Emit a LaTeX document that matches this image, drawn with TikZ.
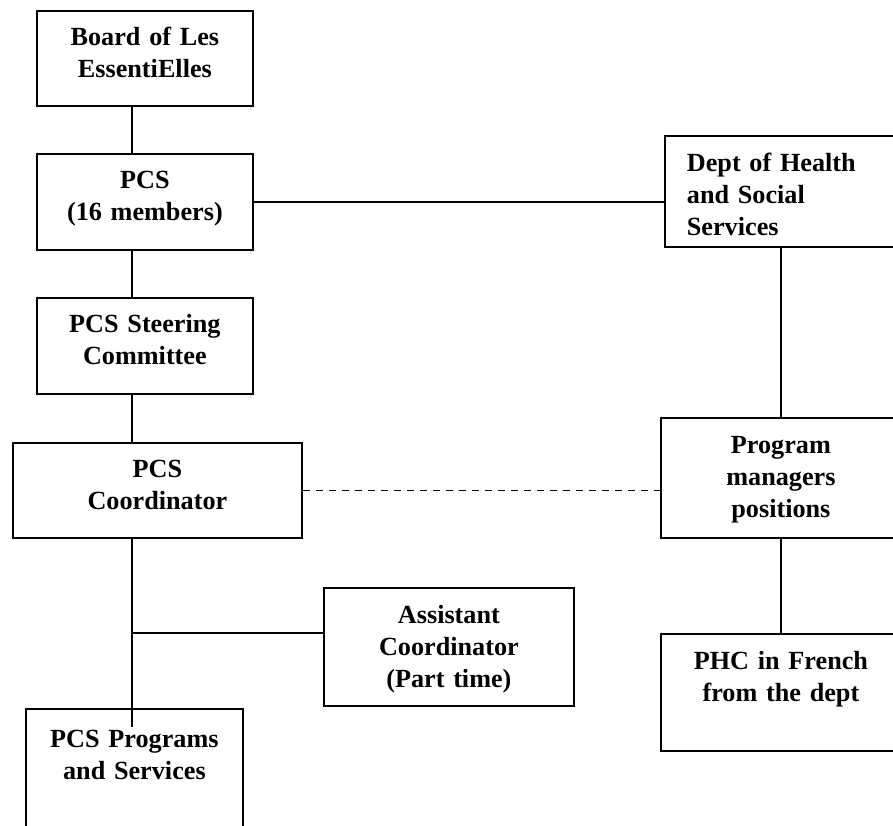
\documentclass[tikz,border=0pt]{standalone}
\usepackage{fontspec}
\setmainfont{Liberation Serif}
\usetikzlibrary{positioning}

\begin{document}
\begin{tikzpicture}[x=1pt, y=-1pt, line width=1.8pt,
    font=\fontsize{26.2}{32}\selectfont\bfseries,
    unit/.style={draw, rectangle, anchor=north west, inner xsep=0pt, inner ysep=0pt,
                 align=center, text height=35pt},
    link/.style={line width=1.6pt},
    loose/.style={link, dash pattern=on 7pt off 6pt}]
    \clip (0,0) rectangle (893,825);
    % left column
    \node[unit, text width=216pt, text depth=60pt] (board) at (36,10) {Board of Les\\EssentiElles};
    \node[unit, text width=216pt, text depth=61pt] (pcs) at (36,153) {PCS\\(16 members)};
    \node[unit, text width=216pt, text depth=61pt] (steer) at (36,297) {PCS Steering\\Committee};
    \node[unit, text width=289pt, text depth=60pt] (coord) at (12,442) {PCS\\Coordinator};
    \node[unit, text width=250pt, text height=36pt, text depth=82pt] (assist) at (323,587) {Assistant\\Coordinator\\(Part time)};
    \node[unit, text width=217pt, text height=39pt, text depth=120pt] (progs) at (25,708) {PCS Programs\\and Services};
    % right column
    \node[unit, align=left, inner xsep=22pt, text width=192pt, text height=36pt, text depth=75pt] (dept) at (664,135) {Dept of Health\\and Social\\Services};
    \node[unit, text width=240pt, text height=36pt, text depth=84pt] (pmgr) at (660,417) {Program\\managers\\positions};
    \node[unit, text width=240pt, text height=36pt, text depth=81pt] (phc) at (660,633) {PHC in French\\from the dept};

    \coordinate (spine) at (132,0);
    \coordinate (branch) at (132,633);
    \coordinate (tail) at (132,727);

    \draw[link] (board.south -| spine) -- (pcs.north -| spine);
    \draw[link] (pcs.south -| spine) -- (steer.north -| spine);
    \draw[link] (steer.south -| spine) -- (coord.north -| spine);
    \draw[link] (coord.south -| spine) -- (tail);
    \draw[link] (branch) -- (branch -| assist.west);
    \draw[link] (pcs.east) -- (pcs.east -| dept.west);
    \draw[loose] (coord.east) -- (coord.east -| pmgr.west);
    \draw[link] (dept.south -| pmgr.north) -- (pmgr.north);
    \draw[link] (pmgr.south) -- (phc.north);
\end{tikzpicture}
\end{document}
